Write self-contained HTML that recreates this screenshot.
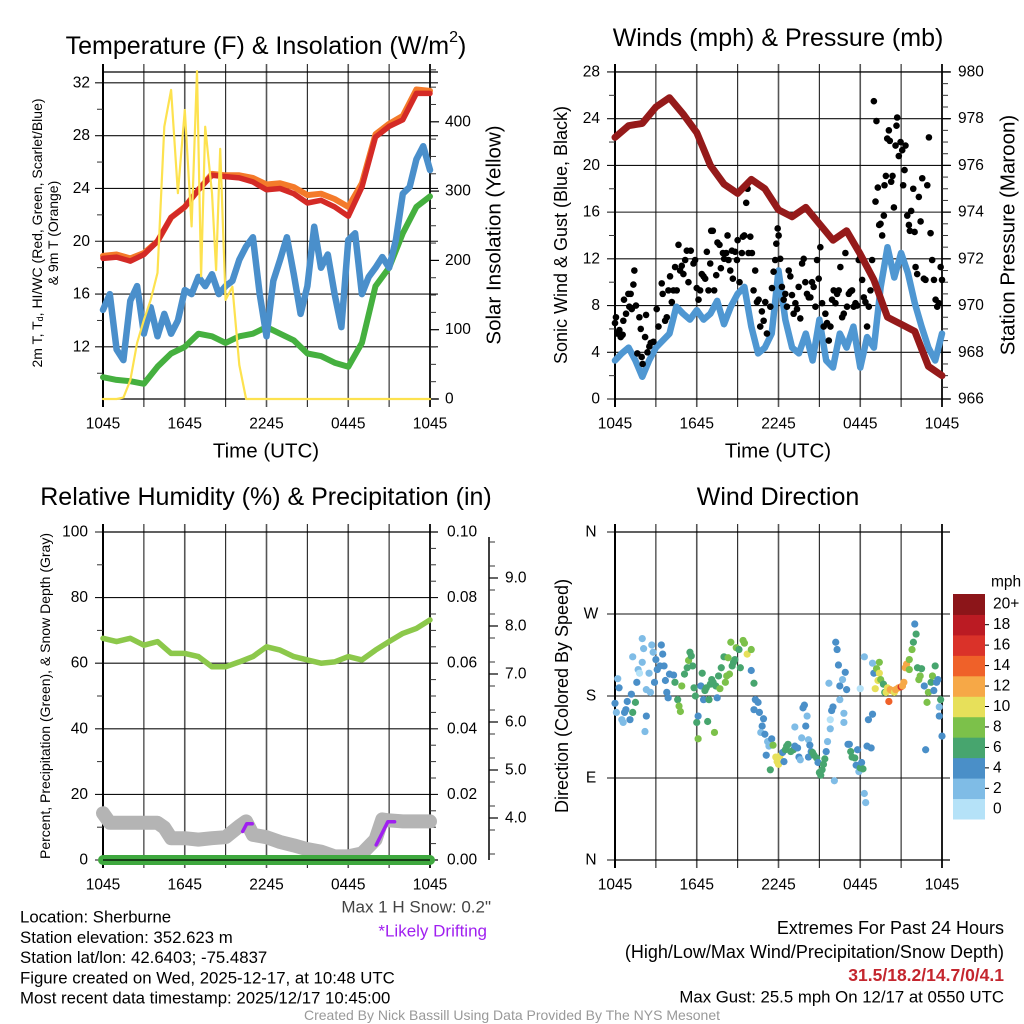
<!DOCTYPE html>
<html><head><meta charset="utf-8"><style>
html,body{margin:0;padding:0;background:#fff}
svg{display:block}
text{font-family:"Liberation Sans",Arial,sans-serif}
</style></head><body>
<svg id="s" width="1024" height="1024" viewBox="0 0 1024 1024" xmlns="http://www.w3.org/2000/svg">
<rect width="1024" height="1024" fill="#fff"/>
</svg>
<script>
// ---------- DATA ----------
const hours = [0,1,2,3,4,5,6,7,8,9,10,11,12,13,14,15,16,17,18,19,20,21,22,23,24];
const halfHours = [0,0.5,1,1.5,2,2.5,3,3.5,4,4.5,5,5.5,6,6.5,7,7.5,8,8.5,9,9.5,10,10.5,11,11.5,12,12.5,13,13.5,14,14.5,15,15.5,16,16.5,17,17.5,18,18.5,19,19.5,20,20.5,21,21.5,22,22.5,23,23.5,24];
const tempRed = [18.7,18.8,18.5,19.0,20.0,21.8,22.6,23.9,25.0,24.9,24.8,24.5,23.9,24.0,23.6,22.9,23.1,22.6,21.9,24.1,27.9,28.7,29.2,31.2,31.2];
const temp9mOrange = [18.9,19.0,18.7,19.1,20.0,21.8,22.6,23.9,25.1,25.0,25.0,24.8,24.3,24.4,24.1,23.5,23.6,23.2,22.6,24.4,28.1,28.9,29.5,31.5,31.4];
const windChillBlue = [14.8,16.0,11.8,11.0,15.5,16.6,13.0,15.0,12.8,14.5,13.0,14.0,16.3,16.0,17.3,16.6,17.5,16.0,16.6,17.0,18.6,19.6,20.3,16.0,12.8,17.0,18.6,20.3,17.5,14.5,16.6,21.1,18.0,19.0,16.0,13.5,20.1,20.6,16.0,17.3,18.0,18.8,18.0,20.1,23.6,24.1,26.2,27.2,25.4];
const dewGreen = [9.7,9.5,9.4,9.2,10.5,11.5,12.0,13.0,12.8,12.3,12.8,13.0,13.5,13.0,12.5,11.5,11.3,10.8,10.5,12.3,16.6,18.0,20.6,22.6,23.4];
const solarTimes = [0,0.5,1,1.5,2,2.5,3,3.5,4,4.5,5,5.5,6,6.5,6.9,7.2,7.5,8.0,8.3,8.6,9.0,9.5,10.0,10.5,11,12,18,24];
const solarVals = [0,0,0,2,27,81,114,143,182,393,446,297,417,249,473,177,393,297,186,361,143,162,49,0,0,0,0,0];
const tempTicks = [12,16,20,24,28,32];
const solarTicks = [0,100,200,300,400];
const timeTickLabels = ["1045","1645","2245","0445","1045"];

const pressure = [977.2,977.7,977.8,978.5,978.9,978.2,977.4,976.0,975.2,974.8,975.4,975.0,974.1,973.8,974.2,973.5,972.8,973.2,972.2,971.1,969.5,969.2,968.9,967.4,967.0];
const sonicWind = [3.3,3.9,4.4,3.3,1.9,3.3,4.4,5.0,5.6,7.9,7.3,6.8,7.6,6.8,7.3,8.4,6.4,7.9,9.0,9.6,6.2,3.9,4.4,5.6,11.0,6.8,4.4,3.9,5.6,3.3,6.8,3.3,2.7,5.6,4.4,6.2,2.7,5.3,4.4,9.6,13.0,10.4,12.5,10.8,8.2,6.2,4.4,3.3,5.6];
const gustTimes = [0,0.07,0.17,0.32,0.42,0.56,0.61,0.66,0.81,0.98,1.05,1.15,1.23,1.35,1.42,1.54,1.64,1.79,1.89,1.96,2.03,2.21,2.28,2.38,2.52,2.62,2.82,3.06,3.19,3.43,3.5,3.68,3.8,3.92,4.04,4.17,4.29,4.41,4.53,4.66,4.78,4.9,5.02,5.15,5.27,5.39,5.56,5.76,5.88,6.0,6.13,6.25,6.37,6.5,6.62,6.74,6.86,6.99,7.06,7.18,7.28,7.43,7.52,7.67,7.77,7.92,8.01,8.16,8.26,8.33,8.46,8.58,8.65,8.82,8.95,9.0,9.14,9.31,9.39,9.49,9.63,9.73,9.8,9.93,10.05,10.17,10.29,10.42,10.54,10.66,10.78,10.91,11.03,11.15,11.4,11.52,11.64,11.76,11.84,11.94,12.01,12.13,12.25,12.38,12.5,12.62,12.75,12.87,12.99,13.11,13.24,13.36,13.48,13.6,13.73,13.85,13.97,14.09,14.22,14.34,14.46,14.58,14.71,14.83,14.95,15.07,15.2,15.32,15.44,15.56,15.69,15.81,15.93,16.05,16.18,16.3,16.42,16.54,16.67,16.79,16.91,17.03,17.16,17.28,17.4,17.52,17.65,17.77,17.89,18.01,18.14,18.26,18.38,18.5,18.63,18.75,18.87,19.0,19.12,19.19,19.29,19.39,19.49,19.61,19.73,19.78,19.88,19.98,20.1,20.17,20.27,20.37,20.47,20.59,20.66,20.71,20.83,20.96,21.08,21.15,21.25,21.32,21.45,21.57,21.64,21.74,21.89,21.99,22.06,22.18,22.3,22.43,22.55,22.67,22.79,22.92,23.04,23.16,23.28,23.41,23.53,23.65,23.77,23.9,24.0];
const gustVals = [6.5,7.0,5.6,5.9,5.3,5.5,6.7,8.5,7.3,9.0,7.9,9.0,7.7,9.8,11.0,8.0,3.9,7.0,6.0,3.6,3.0,5.3,7.2,4.0,4.5,4.8,4.9,7.7,6.2,9.9,9.0,6.7,7.0,9.3,10.5,8.3,9.3,11.3,9.3,13.2,11.0,11.4,10.7,11.9,12.7,10.0,12.7,11.6,11.9,9.5,8.5,9.3,10.7,10.5,10.3,12.6,9.3,11.6,14.4,14.4,9.3,10.6,13.4,13.2,11.2,12.5,12.0,12.5,14.0,11.9,11.0,12.7,10.3,12.6,11.9,13.6,10.0,12.5,13.9,14.0,16.8,18.0,12.5,13.9,12.5,9.3,11.0,8.3,8.5,6.2,7.5,6.7,8.3,5.6,7.9,9.5,10.9,11.9,13.3,14.6,14.0,12.0,9.6,8.5,9.0,7.9,11.0,10.5,8.9,7.3,8.2,7.7,9.6,6.9,11.6,12.0,10.0,9.0,8.7,8.7,10.0,9.6,7.9,11.9,10.3,13.0,8.2,6.2,7.3,6.5,5.0,6.2,8.5,9.3,8.2,9.0,9.3,11.3,7.0,7.3,12.5,7.9,9.0,9.2,9.3,7.9,8.2,8.0,11.9,12.2,10.2,8.7,8.3,6.2,7.9,9.3,11.9,25.5,16.9,23.8,18.1,14.9,15.0,14.0,15.7,18.3,19.1,22.3,23.0,22.1,18.6,19.1,16.4,21.7,23.4,24.1,20.8,22.0,21.3,18.3,19.6,21.7,15.7,14.9,14.4,16.1,18.0,14.3,11.3,10.7,17.3,15.2,18.9,10.3,10.2,18.3,22.4,14.2,11.9,10.2,8.5,7.9,8.2,11.3,10.2];
const windTicks = [0,4,8,12,16,20,24,28];
const pressureTicks = [966,968,970,972,974,976,978,980];

const rhVals = [67.6,66.6,67.6,65.5,66.6,63.0,63.0,62.0,58.9,58.9,60.4,62.0,65.0,64.0,62.0,61.0,60.0,60.4,62.0,61.0,64.0,66.6,69.1,70.6,73.2];
const precipVals = [0,0,0,0,0,0,0,0,0,0,0,0,0,0,0,0,0,0,0,0,0,0,0,0,0];
const snowTimes = [0,0.5,1,2,3,4,4.5,5,6,7,8,9,10,10.5,11,12,13,14,15,16,17,18,19,20,20.5,21,22,23,24];
const snowVals = [4.1,3.9,3.9,3.9,3.9,3.9,3.8,3.58,3.58,3.55,3.58,3.6,3.83,3.93,3.65,3.6,3.5,3.43,3.35,3.3,3.2,3.2,3.26,3.55,3.97,3.95,3.93,3.93,3.93];
const drift1Times = [10.25,10.55,10.95];
const drift1Vals = [3.72,3.88,3.88];
const drift2Times = [20.05,20.9,21.4];
const drift2Vals = [3.44,3.92,3.92];
const pctTicks = [0,20,40,60,80,100];
const precipTicks = ["0.00","0.02","0.04","0.06","0.08","0.10"];
const snowTicks = [4,5,6,7,8,9];

const dirTimes = [0.0,0.1,0.2,0.3,0.5,0.6,0.7,0.8,0.9,1.1,1.2,1.3,1.5,1.3,1.6,1.7,1.8,2.0,2.0,2.1,2.3,2.2,2.3,2.5,2.6,2.7,2.8,2.9,3.0,3.1,3.3,3.4,3.5,3.6,3.7,3.8,3.9,4.0,4.3,4.4,4.6,4.7,4.8,4.9,5.1,5.3,5.4,5.5,5.6,5.7,5.8,5.9,6.0,6.1,6.1,6.3,6.4,6.5,6.6,6.7,6.8,6.9,7.0,7.1,7.2,7.3,7.4,7.5,7.6,7.7,7.8,8.0,8.1,8.2,8.3,8.4,8.5,8.6,8.7,8.8,8.9,9.1,9.2,9.4,9.5,9.7,10.0,10.0,10.2,10.3,10.2,10.5,10.6,10.9,10.8,10.7,11.0,11.2,11.3,11.5,11.6,11.1,11.4,11.8,11.9,12.0,12.1,12.3,12.4,12.5,12.6,12.7,12.9,13.1,13.2,13.2,13.4,13.5,13.6,13.7,13.8,13.9,14.0,14.1,14.2,14.3,14.4,14.2,14.5,14.6,14.8,14.9,15.0,15.1,15.2,15.3,15.4,15.5,15.6,15.7,15.8,15.8,15.9,16.0,16.1,16.2,16.3,16.4,16.5,16.5,16.7,16.8,16.8,16.9,17.0,17.1,17.2,17.3,17.4,17.6,17.8,17.7,17.9,18.0,18.1,18.2,18.0,18.3,18.3,18.4,18.5,18.6,18.8,18.9,18.9,19.0,19.1,19.2,19.3,19.4,19.4,19.5,19.7,19.8,19.9,20.0,20.1,20.2,20.3,20.5,20.6,20.8,21.0,21.1,21.2,21.3,21.4,21.6,21.6,21.8,21.9,22.1,22.0,22.2,22.3,22.4,22.5,22.7,22.8,22.9,23.0,23.2,23.3,23.4,23.5,23.6,23.7,23.8,23.8,23.9,24.0];
const dirVals = [172,162,199,189,154,151,162,165,174,154,182,162,173,223,195,209,205,217,243,232,158,141,187,205,184,236,228,195,220,209,213,236,226,213,197,184,178,204,203,195,176,169,163,191,204,211,219,228,224,213,189,180,151,133,158,191,205,176,186,189,152,176,193,198,195,140,191,178,202,188,211,223,195,202,222,204,239,213,217,220,233,231,211,241,238,226,231,208,194,176,165,173,162,155,147,140,138,130,125,133,126,115,99,113,108,105,114,118,108,121,125,127,119,121,146,125,123,113,110,134,167,170,147,158,132,126,119,113,118,115,112,107,96,93,99,105,111,119,130,194,154,144,164,168,87,239,231,214,191,176,198,161,151,206,187,127,127,119,113,112,121,104,97,101,107,100,188,223,73,63,125,154,123,160,216,205,188,210,197,205,217,198,193,184,184,189,174,187,186,184,187,189,190,191,195,211,215,209,220,231,239,248,259,211,198,202,210,191,121,173,184,195,202,186,213,195,198,168,158,176,136];
const dirSpeeds = [5,3,3,5,3,3,5,5,5,5,5,7,7,3,5,3,1,3,3,3,5,3,3,3,3,3,3,5,5,5,5,5,5,5,5,5,5,5,5,7,7,9,9,9,7,7,9,7,7,7,7,7,7,9,5,5,7,5,7,7,7,7,7,7,7,9,7,5,7,9,7,7,9,9,9,9,9,7,7,7,9,7,7,9,9,11,9,5,7,5,5,5,5,5,5,3,5,3,3,5,9,5,7,11,11,11,11,5,5,7,7,7,7,7,3,5,5,5,3,3,5,5,5,3,3,5,5,5,7,7,7,5,7,7,7,7,7,5,3,3,1,3,5,5,3,5,5,5,5,3,3,3,3,5,5,5,5,7,7,7,5,5,3,7,5,7,1,3,3,3,5,5,5,5,3,5,11,9,11,11,9,9,7,7,11,11,15,13,13,11,13,13,17,13,13,13,13,9,9,9,7,7,5,7,9,9,7,5,5,9,9,7,9,5,7,5,5,3,5,7,5];
const dirTicks = ["N","E","S","W","N"];
const speedBinLabels = ["0","2","4","6","8","10","12","14","16","18","20+"];
const speedBinColors = ["#b5e2f8","#7fbce6","#4a8fc8","#47a56e","#7cc14a","#e7e05a","#f6a847","#ef6129","#da3229","#bb1b23","#8c1519"];

// ---------- HELPERS ----------
const NS = "http://www.w3.org/2000/svg";
const svg = document.getElementById("s");
function mk(tag, attrs, parent){
  const e = document.createElementNS(NS, tag);
  for (const k in attrs) e.setAttribute(k, attrs[k]);
  (parent||svg).appendChild(e);
  return e;
}
function txt(x,y,s,size,anchor,fill,parent,extra){
  const t = mk("text",{x:x,y:y,"font-size":size,"text-anchor":anchor||"middle",fill:fill||"#000","dominant-baseline":"central"},parent);
  if (extra) for (const k in extra) t.setAttribute(k, extra[k]);
  t.textContent = s;
  return t;
}
function linePath(ts, vs, xf, yf){
  let d = "";
  for (let i=0;i<ts.length;i++) d += (i?"L":"M")+xf(ts[i]).toFixed(1)+","+yf(vs[i]).toFixed(1);
  return d;
}
function frameAndGrid(g, x0,x1,y0,y1, hY){
  const xf = t => x0 + t/24*(x1-x0);
  for (let h=0; h<=24; h+=3){
    const x = xf(h);
    const l = mk("line",{x1:x,y1:y0-8,x2:x,y2:y1+8,stroke:(h%6===0)?"#555":"#222","stroke-width":(h%6===0)?1.6:1.1},g);
    
    
  }
  hY.forEach(y=>{
    const l = mk("line",{x1:x0-8,y1:y,x2:x1+8,y2:y,stroke:"#111","stroke-width":1.1},g);
    
    
  });
  mk("line",{x1:x0,y1:y0-8,x2:x0,y2:y1+8,stroke:"#000","stroke-width":2},g);
  mk("line",{x1:x1,y1:y0-8,x2:x1,y2:y1+8,stroke:"#000","stroke-width":1.6},g);
  mk("line",{x1:x0,y1:y0,x2:x1+8,y2:y0,stroke:"#000","stroke-width":1.2},g);
  mk("line",{x1:x0,y1:y1,x2:x1+8,y2:y1,stroke:"#000","stroke-width":1.2},g);
  timeTickLabels.forEach((s,i)=>{
    const t = txt(xf(i*6), y1+25, s, 15.5, "middle", "#000", g);
    
    
  });
  return xf;
}
function minorTicks(g,x,ys,dir){
  ys.forEach(y=>mk("line",{x1:x,y1:y,x2:x+dir*6,y2:y,stroke:"#333","stroke-width":1},g));
}

// ---------- PANEL 1 : Temperature ----------
(function(){
  const g = mk("g",{});  
  const X0=103,X1=430,Y0=72,Y1=399;
  const yT = v => Y1 - (v-8.05)*13.2;
  const yS = v => Y1 - v*0.693;
  const xf = frameAndGrid(g,X0,X1,Y0,Y1,tempTicks.map(yT));
  minorTicks(g,X0,[10,14,18,22,26,30].map(yT),-1);
  const mins=[]; for(let v=25;v<=475;v+=25) if(v%100) mins.push(yS(v));
  minorTicks(g,X1,mins,1);
  solarTicks.forEach(v=>mk("line",{x1:X1,y1:yS(v),x2:X1+9,y2:yS(v),stroke:"#000","stroke-width":1.2},g));
  tempTicks.forEach(v=>{const t=txt(X0-13,yT(v),String(v),15.5,"end","#000",g);  });
  solarTicks.forEach(v=>{const t=txt(X1+15,yS(v),String(v),15.5,"start","#000",g);  });
  const sty = {fill:"none","stroke-linejoin":"round","stroke-linecap":"round"};
  let p;
  p = mk("path",Object.assign({d:linePath(hours,dewGreen,xf,yT),stroke:"#45b03f","stroke-width":6},sty),g);
   
  p = mk("path",Object.assign({d:linePath(halfHours,windChillBlue,xf,yT),stroke:"#4a8fcb","stroke-width":6.5},sty),g);
   
  p = mk("path",Object.assign({d:linePath(hours,temp9mOrange,xf,yT),stroke:"#f47a2a","stroke-width":6},sty),g);
   
  p = mk("path",Object.assign({d:linePath(hours,tempRed,xf,yT),stroke:"#d42a26","stroke-width":5.5},sty),g);
   
  p = mk("path",Object.assign({d:linePath(solarTimes,solarVals,xf,yS),stroke:"#fde24f","stroke-width":2.2},sty),g);
   
  let t = mk("text",{x:266,y:46,"font-size":25,"text-anchor":"middle","dominant-baseline":"central"},g);
  t.innerHTML = 'Temperature (F) &amp; Insolation (W/m<tspan font-size="16" dy="-9">2</tspan><tspan dy="9">)</tspan>';
   
  t = mk("text",{x:0,y:0,"font-size":14,"text-anchor":"middle",transform:"translate(37,233) rotate(-90)","dominant-baseline":"central"},g);
  t.innerHTML = '2m T, T<tspan font-size="9" dy="3">d</tspan><tspan dy="-3">, HI/WC (Red, Green, Scarlet/Blue)</tspan>';
   
  t = txt(0,0,"& 9m T (Orange)",14,"middle","#000",g,{transform:"translate(53,233) rotate(-90)"});
   
  t = txt(0,0,"Solar Insolation (Yellow)",20.5,"middle","#000",g,{transform:"translate(494,235) rotate(-90)"});
   
  t = txt(266,451,"Time (UTC)",20.5,"middle","#000",g);
   
})();

// ---------- PANEL 2 : Winds ----------
(function(){
  const g = mk("g",{});  
  const X0=615,X1=942,Y0=72,Y1=399;
  const yW = v => Y1 - v*11.68;
  const yP = p => Y1 - (p-966)*23.36;
  const xf = frameAndGrid(g,X0,X1,Y0,Y1,windTicks.map(yW));
  minorTicks(g,X0,[2,6,10,14,18,22,26].map(yW),-1);
  const mins=[]; for(let p=966.5;p<980;p+=0.5) if(p%2) mins.push(yP(p));
  minorTicks(g,X1,mins,1);
  pressureTicks.forEach(v=>mk("line",{x1:X1,y1:yP(v),x2:X1+9,y2:yP(v),stroke:"#000","stroke-width":1.2},g));
  windTicks.forEach(v=>{const t=txt(X0-15,yW(v),String(v),15.5,"end","#000",g);  });
  pressureTicks.forEach(v=>{const t=txt(X1+16,yP(v),String(v),15.5,"start","#000",g);  });
  const sty = {fill:"none","stroke-linejoin":"round","stroke-linecap":"round"};
  let p = mk("path",Object.assign({d:linePath(halfHours,sonicWind,xf,yW),stroke:"#4f97d2","stroke-width":6.5},sty),g);
   
  for (let i=0;i<gustTimes.length;i++){
    const c = mk("circle",{cx:xf(gustTimes[i]),cy:yW(gustVals[i]),r:3.3,fill:"#000"},g);
    
    
  }
  p = mk("path",Object.assign({d:linePath(hours,pressure,xf,yP),stroke:"#951a1a","stroke-width":7},sty),g);
   
  let t = txt(778,38,"Winds (mph) & Pressure (mb)",25,"middle","#000",g);
   
  t = txt(0,0,"Sonic Wind & Gust (Blue, Black)",18,"middle","#000",g,{transform:"translate(561,235) rotate(-90)"});
   
  t = txt(0,0,"Station Pressure (Maroon)",20.5,"middle","#000",g,{transform:"translate(1008,235) rotate(-90)"});
   
  t = txt(778,451,"Time (UTC)",20.5,"middle","#000",g);
   
})();

// ---------- PANEL 3 : RH & Precip ----------
(function(){
  const g = mk("g",{});  
  const X0=103,X1=430,Y0=532,Y1=860;
  const yPct = v => Y1 - v*3.28;
  const yPr = v => Y1 - v*3280;
  const ySn = s => 818 - (s-4)*48;
  const xf = frameAndGrid(g,X0,X1,Y0,Y1,pctTicks.map(yPct));
  minorTicks(g,X0,[10,30,50,70,90].map(yPct),-1);
  const mins=[]; for(let v=5;v<100;v+=5) if(v%20) mins.push(yPct(v));
  minorTicks(g,X1,mins,1);
  pctTicks.forEach(v=>{const t=txt(X0-15,yPct(v),String(v),15.5,"end","#000",g);  });
  precipTicks.forEach((s,i)=>{const t=txt(X1+17,yPct(i*20),s,15.5,"start","#000",g);  });
  mk("line",{x1:489,y1:Y0+5,x2:489,y2:Y1,stroke:"#000","stroke-width":1.5},g);
  for (let s=3.25;s<=9.75;s+=0.5){ if (ySn(s)>Y0 && ySn(s)<=Y1) mk("line",{x1:489,y1:ySn(s),x2:495,y2:ySn(s),stroke:"#333","stroke-width":1},g); }
  snowTicks.forEach(s=>{
    mk("line",{x1:489,y1:ySn(s),x2:498,y2:ySn(s),stroke:"#000","stroke-width":1.2},g);
    const t=txt(505,ySn(s),s.toFixed(1),15.5,"start","#000",g);  
  });
  const sty = {fill:"none","stroke-linejoin":"round","stroke-linecap":"round"};
  let p = mk("path",Object.assign({d:linePath(snowTimes,snowVals,xf,ySn),stroke:"#b4b4b4","stroke-width":14},sty),g);
   
  p = mk("path",Object.assign({d:linePath(drift1Times,drift1Vals,xf,ySn),stroke:"#a020f0","stroke-width":3.5},sty),g);
   
  p = mk("path",Object.assign({d:linePath(drift2Times,drift2Vals,xf,ySn),stroke:"#a020f0","stroke-width":3.5},sty),g);
   
  p = mk("path",Object.assign({d:linePath(hours,precipVals,xf,yPr),stroke:"#3ea83e","stroke-width":10},sty),g);
   
  mk("line",{x1:X0,y1:Y1,x2:X1,y2:Y1,stroke:"#000","stroke-width":1.2},g);
  p = mk("path",Object.assign({d:linePath(hours,rhVals,xf,yPct),stroke:"#8cc84b","stroke-width":5.5},sty),g);
   
  let t = txt(266,497,"Relative Humidity (%) & Precipitation (in)",25,"middle","#000",g);
   
  t = txt(0,0,"Percent, Precipitation (Green), & Snow Depth (Gray)",14,"middle","#000",g,{transform:"translate(45,696) rotate(-90)"});
   
})();

// ---------- PANEL 4 : Wind Direction ----------
(function(){
  const g = mk("g",{});  
  const X0=615,X1=942,Y0=532,Y1=860;
  const yD = d => Y1 - d*328/360;
  const xf = frameAndGrid(g,X0,X1,Y0,Y1,[0,90,180,270,360].map(yD));
  dirTicks.forEach((s,i)=>{const t=txt(591,yD(i*90),s,15.5,"middle","#000",g);  });
  for (let i=0;i<dirTimes.length;i++){
    const bin = Math.min(10, Math.floor(dirSpeeds[i]/2));
    const c = mk("circle",{cx:xf(dirTimes[i]),cy:yD(dirVals[i]),r:3.6,fill:speedBinColors[bin]},g);
    
    
  }
  const cb = mk("g",{},g);  
  const bh = 225/11;
  for (let i=0;i<11;i++){
    const y = 594 + (10-i)*bh;
    const r = mk("rect",{x:953,y:y,width:32,height:bh+0.5,fill:speedBinColors[i]},cb);
     
    if (i>0 && i<10) mk("line",{x1:985,y1:y+bh/2,x2:989,y2:y+bh/2,stroke:"#000","stroke-width":1},cb);
    const t = txt(993,y+bh/2,speedBinLabels[i],15.5,"start","#000",cb);
     
  }
  let t = txt(991,582,"mph",15.5,"start","#000",cb);
   
  t = txt(778,497,"Wind Direction",25,"middle","#000",g);
   
  t = txt(0,0,"Direction (Colored By Speed)",18,"middle","#000",g,{transform:"translate(562,696) rotate(-90)"});
   
})();

// ---------- FOOTER TEXT ----------
(function(){
  const g = mk("g",{});  
  const lines = ["Location: Sherburne","Station elevation: 352.623 m","Station lat/lon: 42.6403; -75.4837","Figure created on Wed, 2025-12-17, at 10:48 UTC","Most recent data timestamp: 2025/12/17 10:45:00"];
  lines.forEach((s,i)=>{const t=txt(20,917+i*20.3,s,16.8,"start","#000",g);  });
  let t = txt(491,907,'Max 1 H Snow: 0.2"',17,"end","#444",g);
   
  t = txt(487,931,"*Likely Drifting",17,"end","#a020f0",g);
   
  t = txt(1004,928,"Extremes For Past 24 Hours",18,"end","#000",g);
   
  t = txt(1004,952,"(High/Low/Max Wind/Precipitation/Snow Depth)",18,"end","#000",g);
   
  t = txt(1004,975,"31.5/18.2/14.7/0/4.1",17.5,"end","#c4262e",g,{"font-weight":"bold"});
   
  t = txt(1004,997,"Max Gust: 25.5 mph On 12/17 at 0550 UTC",16.8,"end","#000",g);
   
  t = txt(512,1015,"Created By Nick Bassill Using Data Provided By The NYS Mesonet",14,"middle","#999",g);
   
})();
</script>
</body></html>
